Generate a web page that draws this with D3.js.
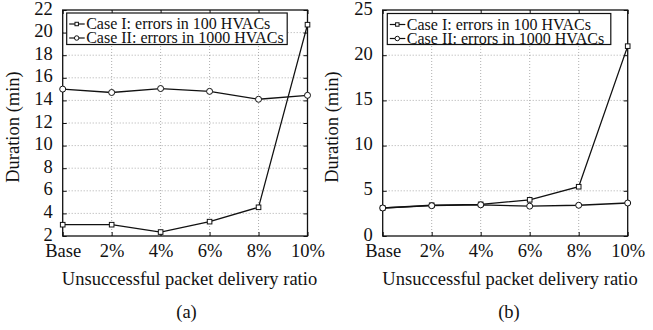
<!DOCTYPE html>
<html>
<head>
<meta charset="utf-8">
<script src="https://cdn.jsdelivr.net/npm/d3@7"></script>
<style>
  body { margin: 0; background: #fff; }
  svg { display: block; }
  svg text { font-family: "Liberation Serif", Tinos, "Times New Roman", Times, "DejaVu Serif", serif !important; fill: #111; }
</style>
</head>
<body>
<svg id="fig" width="653" height="330"></svg>
<script>
// x categories shared by both panels
const categories = ["Base", "2%", "4%", "6%", "8%", "10%"];

// panel (a)
const caseI_a = [3.0, 3.0, 2.35, 3.27, 4.54, 20.7];
const caseII_a = [15.0, 14.7, 15.05, 14.8, 14.1, 14.45];
const yTicks_a = [2, 4, 6, 8, 10, 12, 14, 16, 18, 20, 22];

// panel (b)
const caseI_b = [3.1, 3.4, 3.5, 4.0, 5.45, 21.0];
const caseII_b = [3.1, 3.35, 3.45, 3.3, 3.4, 3.65];
const yTicks_b = [0, 5, 10, 15, 20, 25];

const legendLabels = ["Case I: errors in 100 HVACs", "Case II: errors in 1000 HVACs"];
const markerTypes = ["square", "circle"];

const svg = d3.select("#fig");

function drawMarker(sel, type, s) {
  s = s || 1;
  if (type === "square") {
    sel.append("rect")
      .attr("x", -2.3 * s).attr("y", -2.3 * s).attr("width", 4.6 * s).attr("height", 4.6 * s)
      .attr("fill", "#fff").attr("stroke", "#111").attr("stroke-width", 1);
  } else {
    sel.append("circle")
      .attr("r", 3 * s)
      .attr("fill", "#fff").attr("stroke", "#111").attr("stroke-width", 1);
  }
}

function drawPanel(opt) {
  const g = svg.append("g");
  const x = d3.scalePoint().domain(categories).range([opt.left, opt.right]).padding(0);
  const y = d3.scaleLinear().domain(opt.yDomain).range([opt.bottom, opt.top]);

  // grid
  g.append("g").selectAll("line").data(opt.yTicks.slice(1, -1)).join("line")
    .attr("x1", opt.left).attr("x2", opt.right)
    .attr("y1", d => y(d)).attr("y2", d => y(d))
    .attr("stroke", "#999").attr("stroke-width", 0.8).attr("stroke-dasharray", "1,2");
  g.append("g").selectAll("line").data(categories.slice(1, -1)).join("line")
    .attr("x1", d => x(d)).attr("x2", d => x(d))
    .attr("y1", opt.top).attr("y2", opt.bottom)
    .attr("stroke", "#999").attr("stroke-width", 0.8).attr("stroke-dasharray", "1,2");

  // axes with inward ticks
  const axL = g.append("g").attr("transform", `translate(${opt.left},0)`)
    .call(d3.axisLeft(y).tickValues(opt.yTicks).tickSizeInner(-4).tickSizeOuter(0).tickPadding(10));
  const axR = g.append("g").attr("transform", `translate(${opt.right},0)`)
    .call(d3.axisRight(y).tickValues(opt.yTicks).tickSizeInner(-4).tickSizeOuter(0).tickFormat(""));
  const axB = g.append("g").attr("transform", `translate(0,${opt.bottom})`)
    .call(d3.axisBottom(x).tickSizeInner(-4).tickSizeOuter(0).tickPadding(8));
  const axT = g.append("g").attr("transform", `translate(0,${opt.top})`)
    .call(d3.axisTop(x).tickSizeInner(-4).tickSizeOuter(0).tickFormat(""));
  [axL, axR, axB, axT].forEach(a => {
    a.attr("font-family", null);
    a.select(".domain").remove();
    a.selectAll("line").attr("stroke", "#111");
    a.selectAll("text").attr("font-size", 18.5).attr("fill", "#111");
  });
  axL.selectAll("text").attr("dy", "0.22em");

  // frame
  g.append("rect")
    .attr("x", opt.left).attr("y", opt.top)
    .attr("width", opt.right - opt.left).attr("height", opt.bottom - opt.top)
    .attr("fill", "none").attr("stroke", "#111").attr("stroke-width", 1.3);

  // series
  const line = d3.line().x((d, i) => x(categories[i])).y(d => y(d));
  opt.series.forEach(s => {
    g.append("path").datum(s)
      .attr("d", line).attr("fill", "none")
      .attr("stroke", "#111").attr("stroke-width", 1.3);
  });
  opt.series.forEach((s, k) => {
    g.append("g").selectAll("g").data(s).join("g")
      .attr("transform", (d, i) => `translate(${x(categories[i])},${y(d)})`)
      .each(function () { drawMarker(d3.select(this), markerTypes[k]); });
  });

  // legend
  const lg = g.append("g");
  lg.append("rect")
    .attr("x", opt.legend.x).attr("y", opt.legend.y)
    .attr("width", opt.legend.w).attr("height", opt.legend.h)
    .attr("fill", "#fff").attr("stroke", "#111").attr("stroke-width", 1.2);
  legendLabels.forEach((lab, k) => {
    const cy = opt.legend.y + 11 + k * 14;
    lg.append("line")
      .attr("x1", opt.legend.x + 2.5).attr("x2", opt.legend.x + 18)
      .attr("y1", cy).attr("y2", cy)
      .attr("stroke", "#111").attr("stroke-width", 1.2);
    const m = lg.append("g").attr("transform", `translate(${opt.legend.x + 10},${cy})`);
    drawMarker(m, markerTypes[k], 0.75);
    lg.append("text")
      .attr("x", opt.legend.x + 19.5).attr("y", cy + 5.3)
      .attr("font-size", 16).text(lab);
  });

  // titles
  g.append("text")
    .attr("transform", `translate(${opt.yLabelX},${(opt.top + opt.bottom) / 2 + 4}) rotate(-90)`)
    .attr("text-anchor", "middle").attr("font-size", 18.5)
    .text("Duration (min)");
  g.append("text")
    .attr("x", opt.titleX).attr("y", 285)
    .attr("text-anchor", "middle").attr("font-size", 18.5)
    .text("Unsuccessful packet delivery ratio");
  g.append("text")
    .attr("x", opt.captionX).attr("y", 318)
    .attr("text-anchor", "middle").attr("font-size", 18.5)
    .text(opt.caption);
}

drawPanel({
  left: 62.7, right: 307.5, top: 10, bottom: 236,
  yDomain: [2, 22], yTicks: yTicks_a,
  series: [caseI_a, caseII_a],
  legend: { x: 66.7, y: 13, w: 220.5, h: 31.5 },
  yLabelX: 19, titleX: 189.5, captionX: 186.5, caption: "(a)"
});

drawPanel({
  left: 382.7, right: 627.7, top: 10, bottom: 236,
  yDomain: [0, 25], yTicks: yTicks_b,
  series: [caseI_b, caseII_b],
  legend: { x: 387.3, y: 13.5, w: 223.5, h: 31 },
  yLabelX: 338, titleX: 510, captionX: 509, caption: "(b)"
});
</script>
</body>
</html>
